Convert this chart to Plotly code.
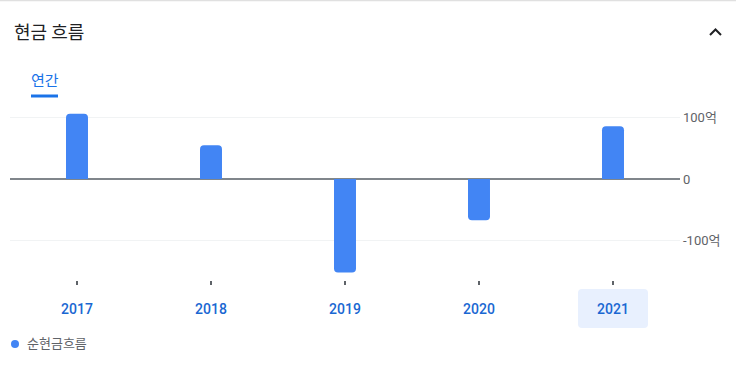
import plotly.graph_objects as go

years = ["2017", "2018", "2019", "2020", "2021"]
net_cash_flow = [106, 55, -152, -67, 86]  # 억
series_name = "순현금흐름"
y_tick_vals = [-100, 0, 100]
y_tick_text = ["-100억", "0", "100억"]
title_text = "현금 흐름"
tab_text = "연간"

W, H = 736, 367
ML, MR, MT, MB = 10, 56, 100, 87
PW, PH = W - ML - MR, H - MT - MB


def px(x):
    return (x - ML) / PW


def py(y):
    return (H - MB - y) / PH


fig = go.Figure()
fig.add_trace(go.Bar(
    x=years, y=net_cash_flow, name=series_name,
    marker=dict(color="#4285f4", cornerradius=4, line=dict(width=0)),
    width=0.164, showlegend=False, hoverinfo="skip",
))

shapes = []
# top border
shapes.append(dict(type="line", xref="paper", yref="paper", x0=px(0), x1=px(W), y0=py(0.5), y1=py(0.5),
                   line=dict(color="#e0e0e0", width=1.5)))
# tab underline
shapes.append(dict(type="line", xref="paper", yref="paper", x0=px(31), x1=px(58), y0=py(96), y1=py(96),
                   line=dict(color="#1a73e8", width=3)))
# chevron
shapes.append(dict(type="path", xref="paper", yref="paper",
                   path=f"M {px(710)},{py(35)} L {px(715.5)},{py(29.5)} L {px(721)},{py(35)}",
                   line=dict(color="#202124", width=2)))
# highlight box for last year (rounded)
bx0, bx1 = 4 - 35 / 134, 4 + 35 / 134
by0, by1 = py(328), py(289)
rx, ry = 4 / 134, 4 / PH
shapes.append(dict(type="path", xref="x", yref="paper", layer="below",
                   path=(f"M {bx0+rx},{by0} L {bx1-rx},{by0} Q {bx1},{by0} {bx1},{by0+ry} "
                         f"L {bx1},{by1-ry} Q {bx1},{by1} {bx1-rx},{by1} L {bx0+rx},{by1} "
                         f"Q {bx0},{by1} {bx0},{by1-ry} L {bx0},{by0+ry} Q {bx0},{by0} {bx0+rx},{by0} Z"),
                   fillcolor="#e8f0fe", line=dict(width=0)))
# legend dot
shapes.append(dict(type="circle", xref="paper", yref="paper", x0=px(11), x1=px(19), y0=py(348), y1=py(340),
                   fillcolor="#4285f4", line=dict(width=0)))

annotations = [
    dict(text=title_text, xref="paper", yref="paper", x=px(12), y=py(31), xanchor="left", yanchor="middle",
         showarrow=False, font=dict(size=18, color="#202124", family="Noto Sans CJK KR")),
    dict(text=tab_text, xref="paper", yref="paper", x=px(29), y=py(79), xanchor="left", yanchor="middle",
         showarrow=False, font=dict(size=15, color="#1a73e8", family="Noto Sans CJK KR")),
    dict(text=series_name, xref="paper", yref="paper", x=px(25), y=py(342), xanchor="left", yanchor="middle",
         showarrow=False, font=dict(size=13, color="#5f6368", family="Noto Sans CJK KR")),
]

fig.update_layout(
    width=W, height=H,
    margin=dict(l=ML, r=MR, t=MT, b=MB),
    paper_bgcolor="white", plot_bgcolor="white",
    bargap=0.8,
    shapes=shapes, annotations=annotations,
    font=dict(family="Roboto, Noto Sans CJK KR"),
    xaxis=dict(
        type="category", range=[-0.5, 4.5], showgrid=False, zeroline=False, showline=False,
        ticks="outside", ticklen=4, tickwidth=2, tickcolor="#5f6368",
        ticklabelstandoff=12,
        tickfont=dict(size=14, color="#1967d2", family="Roboto", weight=500),
        fixedrange=True,
    ),
    yaxis=dict(
        side="right", range=[-164.2, 128.5],
        tickvals=y_tick_vals, ticktext=y_tick_text,
        tickfont=dict(size=13, color="#5f6368", family="Roboto, Noto Sans CJK KR"),
        showgrid=True, gridcolor="#f1f3f4", gridwidth=1,
        zeroline=True, zerolinecolor="#80868b", zerolinewidth=2,
        showline=False, ticks="", ticklabelstandoff=2,
        fixedrange=True,
    ),
)

fig.write_html("out.html")
